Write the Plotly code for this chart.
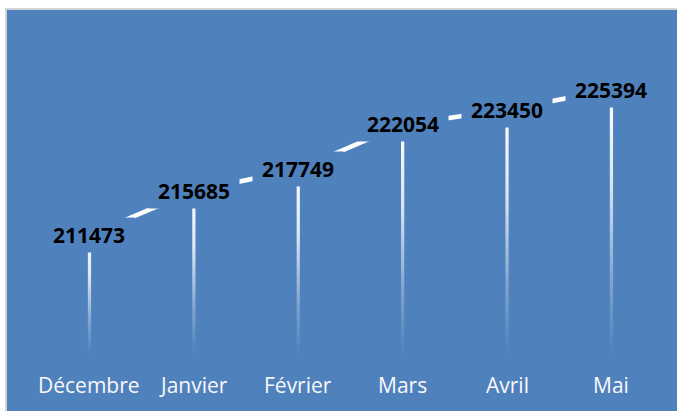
import plotly.graph_objects as go

categories = ["Décembre", "Janvier", "Février", "Mars", "Avril", "Mai"]
values = [211473, 215685, 217749, 222054, 223450, 225394]
base_value = 200000

BLUE = "#4F81BD"
W, H = 677, 411
M_L, M_T = 7, 10
plot_w, plot_h = W - M_L, H - M_T

fig = go.Figure()

# gradient drop lines from the axis base to each point
half_w = 0.0155
for i, v in enumerate(values):
    fig.add_trace(go.Scatter(
        x=[i - half_w, i + half_w, i + half_w, i - half_w, i - half_w],
        y=[base_value, base_value, v, v, base_value],
        mode="lines", line=dict(width=0), fill="toself",
        fillgradient=dict(type="vertical", start=base_value, stop=v,
                          colorscale=[[0, "rgba(255,255,255,0)"],
                                      [0.3, "rgba(255,255,255,0.3)"],
                                      [0.65, "rgba(255,255,255,0.8)"],
                                      [1, "rgba(255,255,255,1)"]]),
        hoverinfo="skip", showlegend=False))

# connecting line
fig.add_trace(go.Scatter(
    x=list(range(len(categories))), y=values, mode="lines",
    line=dict(color="white", width=4.5), showlegend=False, hoverinfo="skip"))

annotations = []
for i, v in enumerate(values):
    annotations.append(dict(
        x=i, y=v, xref="x", yref="y", text=f"<b>{v}</b>", showarrow=False,
        xanchor="center", yanchor="middle", bgcolor=BLUE, borderpad=1,
        width=88, height=32,
        font=dict(family="Open Sans", size=21, color="black")))
for i, c in enumerate(categories):
    annotations.append(dict(
        x=i, y=(H - 385) / plot_h, xref="x", yref="paper", text=c,
        showarrow=False, xanchor="center", yanchor="middle",
        font=dict(family="Open Sans", size=21, color="#F8F8F8")))

fig.update_layout(
    width=W, height=H,
    margin=dict(l=M_L, r=0, t=M_T, b=0, pad=0),
    paper_bgcolor="white", plot_bgcolor=BLUE,
    xaxis=dict(range=[-0.790, 5.628], showgrid=False, zeroline=False,
               showticklabels=False, showline=False, fixedrange=True),
    yaxis=dict(range=[194634, 233000], showgrid=False, zeroline=False,
               showticklabels=False, showline=False, fixedrange=True),
    annotations=annotations,
    shapes=[
        dict(type="line", xref="paper", yref="paper",
             x0=-1 / plot_w, x1=-1 / plot_w, y0=0, y1=1 + 2 / plot_h,
             line=dict(color="#D4D4D4", width=2)),
        dict(type="line", xref="paper", yref="paper",
             x0=-2 / plot_w, x1=1, y0=1 + 1 / plot_h, y1=1 + 1 / plot_h,
             line=dict(color="#D4D4D4", width=2)),
    ],
    showlegend=False,
)

fig.write_html(
    "out.html",
    config={"displayModeBar": False},
    post_script="document.body.style.margin='0px';document.body.style.overflow='hidden';",
)
